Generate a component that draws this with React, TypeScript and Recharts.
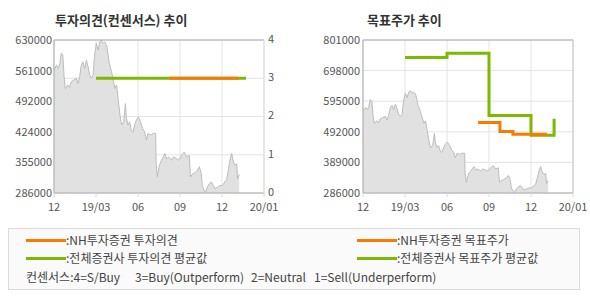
import { ComposedChart, Area, Line, XAxis, YAxis, CartesianGrid, ReferenceLine } from "recharts";

const FONT = "'Noto Sans CJK KR', 'Noto Sans', sans-serif";
const ORANGE = "#f77b00";
const GREEN = "#7cb900";

// x 위치는 눈금 단위 (0=18/12, 1=19/03, 2=06, 3=09, 4=12, 5=20/01)
const xTicks = [0, 1, 2, 3, 4, 5];
const xLabels = ["12", "19/03", "06", "09", "12", "20/01"];

const opinionTicks = [0, 1, 2, 3, 4];
const priceTicksLeft = [286000, 354800, 423600, 492400, 561200, 630000];
const priceTicksRight = [286000, 389000, 492000, 595000, 698000, 801000];

// 주가
const priceT = [
  0, 0.06, 0.1, 0.14, 0.17, 0.21, 0.24, 0.27, 0.33, 0.37, 0.41, 0.47, 0.53, 0.57, 0.61, 0.65, 0.69, 0.73, 0.77, 0.81,
  0.85, 0.89, 0.93, 0.97, 1.01, 1.05, 1.09, 1.13, 1.17, 1.21, 1.26, 1.31, 1.37, 1.41, 1.45, 1.49, 1.53, 1.57, 1.61, 1.66,
  1.7, 1.72, 1.76, 1.8, 1.84, 1.88, 1.92, 1.96, 2.01, 2.06, 2.11, 2.16, 2.2, 2.24, 2.3, 2.36, 2.42, 2.43, 2.46, 2.5,
  2.54, 2.6, 2.64, 2.68, 2.73, 2.8, 2.85, 2.92, 2.97, 3.04, 3.1, 3.16, 3.22, 3.25, 3.3, 3.35, 3.41, 3.46, 3.51, 3.53,
  3.57, 3.61, 3.65, 3.7, 3.75, 3.79, 3.83, 3.89, 3.95, 4.01, 4.07, 4.11, 4.15, 4.19, 4.23, 4.27, 4.31, 4.35, 4.37, 4.41,
];
const priceV = [
  562000, 574000, 566000, 577000, 600000, 596000, 547000, 521000, 529000, 523000, 536000, 540000, 544000, 532000, 547000,
  574000, 581000, 566000, 585000, 570000, 551000, 544000, 551000, 600000, 622000, 607000, 626000, 630000, 622000, 626000,
  615000, 581000, 559000, 540000, 521000, 529000, 495000, 461000, 439000, 446000, 487000, 457000, 439000, 446000, 427000,
  423000, 439000, 450000, 457000, 446000, 431000, 423000, 405000, 420000, 416000, 420000, 420000, 356000, 322000, 345000,
  356000, 367000, 375000, 363000, 367000, 360000, 367000, 363000, 360000, 371000, 378000, 367000, 371000, 322000, 329000,
  331000, 337000, 345000, 329000, 303000, 293000, 288000, 299000, 307000, 311000, 303000, 296000, 299000, 303000, 303000,
  311000, 315000, 337000, 360000, 375000, 356000, 348000, 352000, 318000, 328000,
];

// 투자의견
const avgOpinionT = [1, 4.57];
const avgOpinionV = [3, 3];
const nhOpinionT = [2.74, 4.4];
const nhOpinionV = [3, 3];

// 목표주가
const avgTargetT = [1, 2, 3, 4, 4.55];
const avgTargetV = [742000, 756000, 547000, 480000, 536000];
const nhTargetT = [2.74, 3.26, 3.57, 4.38];
const nhTargetV = [523000, 493000, 484000, 484000];

const consensusNotes = ["컨센서스:4=S/Buy", "3=Buy(Outperform)", "2=Neutral", "1=Sell(Underperform)"];

const toRows = (t: number[], v: number[]) => t.map((x, i) => ({ t: x, v: v[i] }));
const priceData = toRows(priceT, priceV);

const tickStyle = { fill: "#555", fontSize: 11, fontFamily: FONT };

function Title({ text, left }: { text: string; left: number }) {
  return (
    <div
      style={{
        position: "absolute",
        left,
        top: 11,
        fontFamily: FONT,
        fontWeight: 700,
        fontSize: 13,
        color: "#333",
        lineHeight: "18px",
        whiteSpace: "nowrap",
      }}
    >
      {text}
    </div>
  );
}

const xAxisProps = {
  dataKey: "t",
  type: "number" as const,
  domain: [0, 5],
  ticks: xTicks,
  tickFormatter: (i: number) => xLabels[i],
  allowDataOverflow: true,
  height: 27,
  tick: tickStyle,
  tickSize: 4,
  tickMargin: 6,
  tickLine: { stroke: "#d8d8d8" },
  axisLine: { stroke: "#aaa" },
  interval: 0 as const,
};

function OpinionChart() {
  return (
    <ComposedChart width={295} height={222} margin={{ top: 40, right: 6, bottom: 2, left: 4 }}>
      <CartesianGrid yAxisId="op" stroke="#e4e4e4" strokeWidth={1} />
      <XAxis {...xAxisProps} />
      <YAxis
        yAxisId="price"
        domain={[286000, 630000]}
        ticks={priceTicksLeft}
        tickFormatter={(v: number) => String(Math.round(v / 1000) * 1000)}
        allowDataOverflow
        width={50}
        tick={tickStyle}
        tickLine={false}
        tickSize={2}
        tickMargin={0}
        axisLine={{ stroke: "#aaa" }}
        interval={0}
      />
      <YAxis
        yAxisId="op"
        orientation="right"
        domain={[0, 4]}
        ticks={opinionTicks}
        width={25}
        tick={{ ...tickStyle, dy: -1 }}
        tickLine={false}
        tickSize={4}
        tickMargin={0}
        axisLine={{ stroke: "#ddd" }}
        interval={0}
      />
      <ReferenceLine yAxisId="op" y={4} stroke="#aaa" />
      <Area
        yAxisId="price"
        data={priceData}
        dataKey="v"
        type="linear"
        baseValue={286000}
        fill="#e1e1e1"
        fillOpacity={1}
        stroke="#bdbdbd"
        strokeWidth={1}
        dot={false}
        activeDot={false}
        isAnimationActive={false}
      />
      <Line
        yAxisId="op"
        data={toRows(avgOpinionT, avgOpinionV)}
        dataKey="v"
        type="stepAfter"
        stroke={GREEN}
        strokeWidth={3}
        dot={false}
        activeDot={false}
        isAnimationActive={false}
      />
      <Line
        yAxisId="op"
        data={toRows(nhOpinionT, nhOpinionV)}
        dataKey="v"
        type="stepAfter"
        stroke={ORANGE}
        strokeWidth={3}
        dot={false}
        activeDot={false}
        isAnimationActive={false}
      />
    </ComposedChart>
  );
}

function TargetChart() {
  return (
    <ComposedChart width={295} height={222} margin={{ top: 40, right: 17, bottom: 2, left: 4 }}>
      <CartesianGrid yAxisId="price" stroke="#e4e4e4" strokeWidth={1} />
      <XAxis {...xAxisProps} />
      <YAxis
        yAxisId="price"
        domain={[286000, 801000]}
        ticks={priceTicksRight}
        allowDataOverflow
        width={64}
        tick={tickStyle}
        tickLine={false}
        tickSize={3}
        tickMargin={0}
        axisLine={{ stroke: "#aaa" }}
        interval={0}
      />
      <ReferenceLine yAxisId="price" y={801000} stroke="#aaa" />
      <ReferenceLine yAxisId="price" x={5} stroke="#c8c8c8" />
      <Area
        yAxisId="price"
        data={priceData}
        dataKey="v"
        type="linear"
        baseValue={286000}
        fill="#e1e1e1"
        fillOpacity={1}
        stroke="#bdbdbd"
        strokeWidth={1}
        dot={false}
        activeDot={false}
        isAnimationActive={false}
      />
      <Line
        yAxisId="price"
        data={toRows(avgTargetT, avgTargetV)}
        dataKey="v"
        type="stepAfter"
        stroke={GREEN}
        strokeWidth={3}
        dot={false}
        activeDot={false}
        isAnimationActive={false}
      />
      <Line
        yAxisId="price"
        data={toRows(nhTargetT, nhTargetV)}
        dataKey="v"
        type="stepAfter"
        stroke={ORANGE}
        strokeWidth={3}
        dot={false}
        activeDot={false}
        isAnimationActive={false}
      />
    </ComposedChart>
  );
}

function LegendLine({ left, top, color }: { left: number; top: number; color: string }) {
  return <div style={{ position: "absolute", left, top: top - 1.5, width: 40, height: 3, background: color }} />;
}

function LegendText({ left, top, text }: { left: number; top: number; text: string }) {
  return (
    <div
      style={{
        position: "absolute",
        left,
        top: top - 8,
        height: 16,
        lineHeight: "16px",
        fontFamily: FONT,
        fontSize: 12,
        color: "#444",
        whiteSpace: "pre",
      }}
    >
      {text}
    </div>
  );
}

const noteLefts = [26, 135, 251, 314];

export default function App() {
  return (
    <div style={{ position: "absolute", left: 0, top: 0, width: 590, height: 300, background: "#fff" }}>
      <Title text="투자의견(컨센서스) 추이" left={55} />
      <Title text="목표주가 추이" left={367} />
      <div style={{ position: "absolute", left: 0, top: 0 }}>
        <OpinionChart />
      </div>
      <div style={{ position: "absolute", left: 295, top: 0 }}>
        <TargetChart />
      </div>
      <div
        style={{
          position: "absolute",
          left: 8,
          top: 228,
          width: 570,
          height: 60,
          border: "1px solid #dcdcdc",
          background: "#fafafa",
        }}
      />
      <LegendLine left={26} top={240} color={ORANGE} />
      <LegendText left={66} top={240} text=":NH투자증권 투자의견" />
      <LegendLine left={26} top={258} color={GREEN} />
      <LegendText left={66} top={258} text=":전체증권사 투자의견 평균값" />
      <LegendLine left={357} top={240} color={ORANGE} />
      <LegendText left={397} top={240} text=":NH투자증권 목표주가" />
      <LegendLine left={357} top={258} color={GREEN} />
      <LegendText left={397} top={258} text=":전체증권사 목표주가 평균값" />
      {consensusNotes.map((n, i) => (
        <LegendText key={n} left={noteLefts[i]} top={277} text={n} />
      ))}
    </div>
  );
}
